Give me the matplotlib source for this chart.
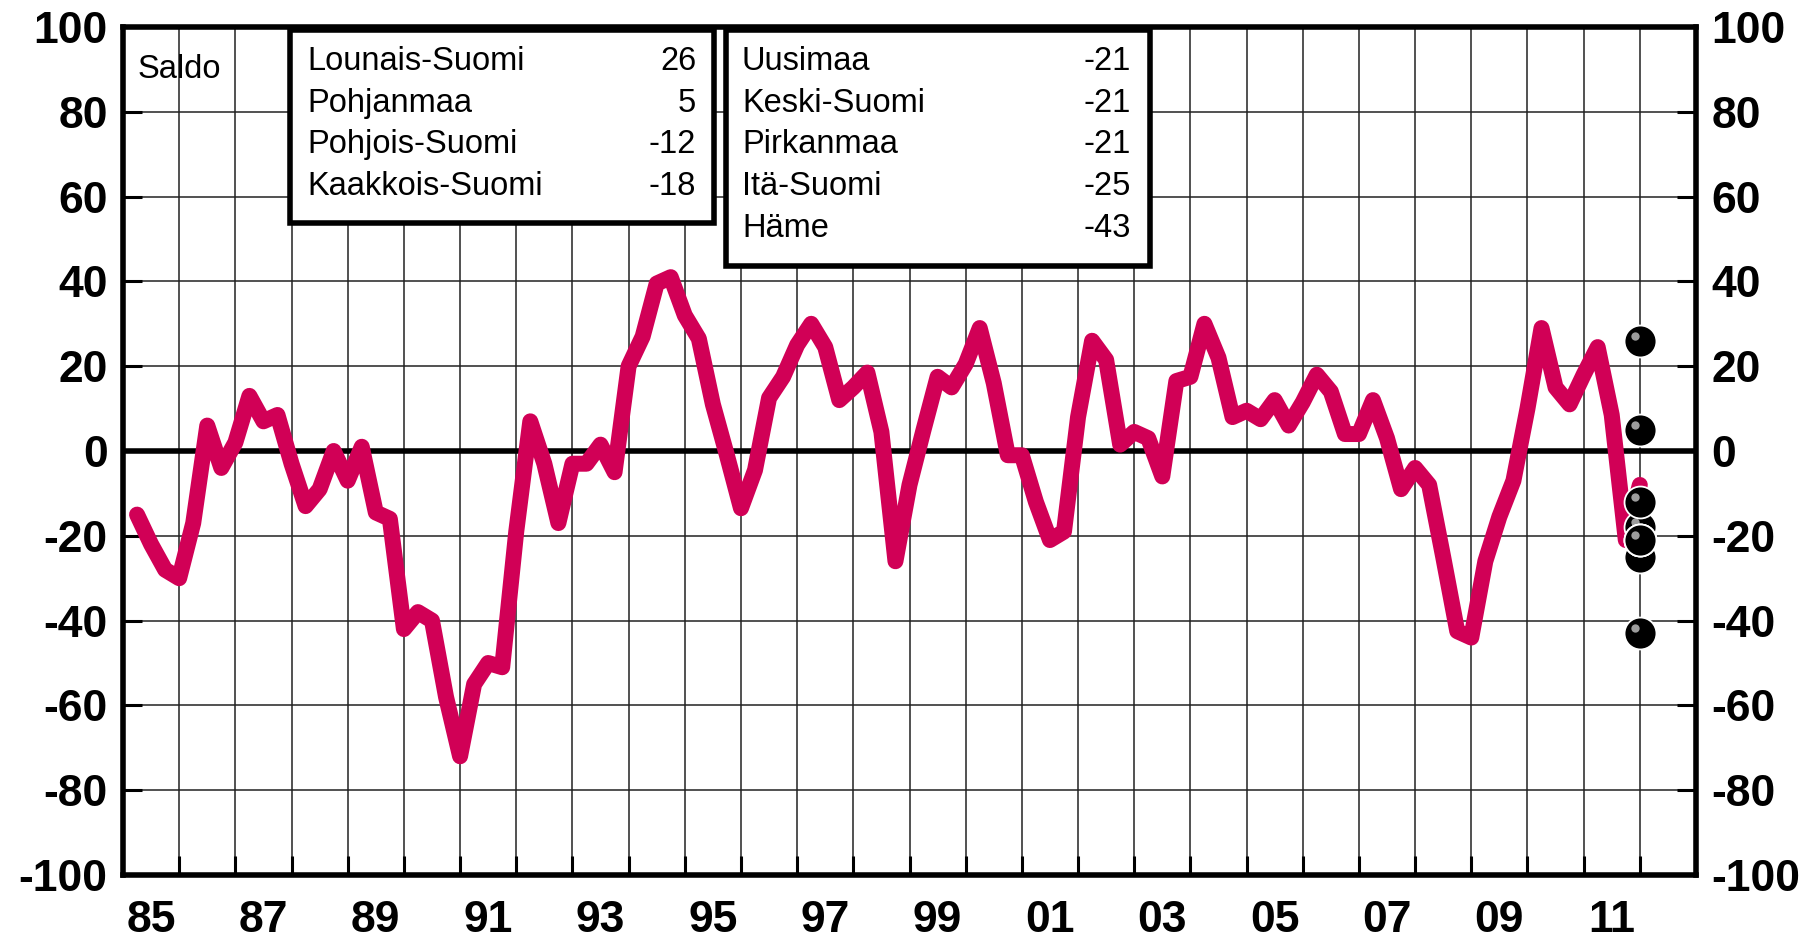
import numpy as np
import matplotlib
matplotlib.use("Agg")
import matplotlib.pyplot as plt
from matplotlib.patches import Rectangle
import matplotlib.transforms as mtransforms

plt.rcParams['font.family'] = ['Liberation Sans', 'DejaVu Sans']
plt.rcParams['font.weight'] = 'bold'
plt.rcParams['axes.unicode_minus'] = False

# saldo, quarterly 1985 Q1 - 2011 Q4 (plotted at end of quarter)
first_year = 1985
saldo = [-15, -22, -28, -30, -17, 6, -4, 2, 13, 7, 8.5, -3,
         -13, -9, 0, -7, 1, -14.5, -16, -42, -38, -40, -58, -72,
         -55, -50, -51, -19, 7, -3, -17, -3, -3, 1.5, -5, 20,
         27, 39.5, 41, 32, 26.5, 11, -1, -13.5, -4.5, 12.5, 17.5, 25,
         30, 24.5, 12, 15, 18.5, 4.5, -26, -8, 5, 17.5, 15, 20.5,
         29, 16, -1, -1, -12, -21, -19, 8, 26, 21.5, 1.5, 4.5,
         3, -6, 16.5, 17.5, 30, 22, 8, 9.5, 7.5, 12, 6, 11.5,
         18, 14, 4, 4, 12, 3, -9, -4, -8, -25, -42.5, -44,
         -26, -15.5, -7, 10, 29, 15, 11, 18, 24.5, 8.5, -21, -8]
quarters = first_year + np.arange(1, len(saldo) + 1) / 4

# latest regional values
regions_left = ["Lounais-Suomi", "Pohjanmaa", "Pohjois-Suomi", "Kaakkois-Suomi"]
values_left = [26, 5, -12, -18]
regions_right = ["Uusimaa", "Keski-Suomi", "Pirkanmaa", "Itä-Suomi", "Häme"]
values_right = [-21, -21, -21, -25, -43]

year_ticks = np.arange(1985, 2014)
label_years = np.arange(1985, 2012, 2)
y_ticks = np.arange(-100, 101, 20)

W, H = 1816, 939
fig = plt.figure(figsize=(W / 100, H / 100), dpi=100)


def fx(px):
    return px / W


def fy(py):
    return 1 - py / H


L, R, T, B = 123, 1696, 27, 875
ax = fig.add_axes([fx(L), fy(B), fx(R) - fx(L), fy(T) - fy(B)])

ax.plot(quarters, saldo, color='#D10056', lw=11.5, solid_joinstyle='round',
        solid_capstyle='round', zorder=3)
ax.axhline(0, color='black', lw=4, zorder=2.5)

# regional dots with a little highlight
dots = values_left + values_right
order = [3, 7, 0, 1, 2, 4, 5, 6, 8]
shine = ax.transData + mtransforms.ScaledTranslation(-5 / 100, 5 / 100, fig.dpi_scale_trans)
for n, i in enumerate(order):
    ax.scatter([quarters[-1]], [dots[i]], s=23 ** 2, c='black', edgecolors='white',
               linewidths=1.3, zorder=6 + 2 * n)
    ax.scatter([quarters[-1]], [dots[i]], s=6 ** 2, c='#9c9c9c', linewidths=0,
               transform=shine, zorder=7 + 2 * n)

ax.set_xlim(1985, 2013)
ax.set_ylim(-100, 100)
ax.set_xticks(year_ticks)
ax.set_xticklabels([])
ax.set_xticks(label_years + 0.5, minor=True)
ax.set_xticklabels([f"{y % 100:02d}" for y in label_years], minor=True)
ax.tick_params(axis='x', which='major', direction='in', length=14, width=2.2)
ax.tick_params(axis='x', which='minor', length=0, pad=18, labelsize=32)
ax.set_yticks(y_ticks)
ax.tick_params(axis='y', which='major', direction='in', length=14, width=2.2,
               left=True, right=True, labelleft=True, labelright=True,
               labelsize=32, pad=11)

ax.set_axisbelow(True)
ax.grid(True, which='major', color='#222222', lw=1.1)
for s in ax.spines.values():
    s.set_linewidth(4)

# legend boxes
fs = 23.5
fig.text(fx(138), fy(78), "Saldo", fontsize=fs, fontweight='normal', zorder=6)

fig.add_artist(Rectangle((fx(290), fy(223)), fx(714) - fx(290), fy(30) - fy(223),
                         transform=fig.transFigure, facecolor='white',
                         edgecolor='black', lw=4, zorder=5))
fig.add_artist(Rectangle((fx(726), fy(266)), fx(1150) - fx(726), fy(30) - fy(266),
                         transform=fig.transFigure, facecolor='white',
                         edgecolor='black', lw=4, zorder=5))

rows = [70, 112, 153, 195, 237]
for i, (name, v) in enumerate(zip(regions_left, values_left)):
    fig.text(fx(307), fy(rows[i]), name, fontsize=fs, fontweight='normal', zorder=6)
    fig.text(fx(696), fy(rows[i]), str(v), fontsize=fs, fontweight='normal',
             ha='right', zorder=6)
for i, (name, v) in enumerate(zip(regions_right, values_right)):
    fig.text(fx(742), fy(rows[i]), name, fontsize=fs, fontweight='normal', zorder=6)
    fig.text(fx(1131), fy(rows[i]), str(v), fontsize=fs, fontweight='normal',
             ha='right', zorder=6)

fig.savefig("out.png", dpi=100)
